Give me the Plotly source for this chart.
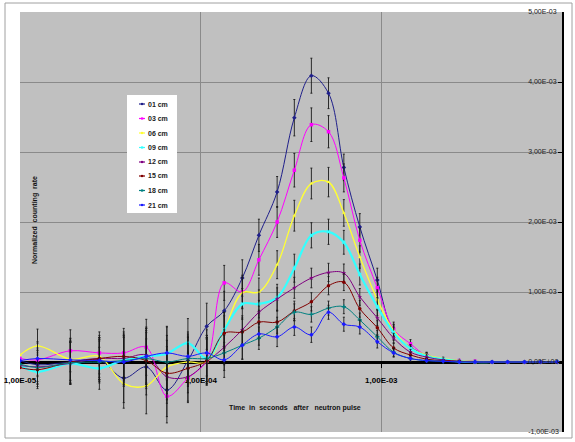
import numpy as np
import plotly.graph_objects as go

# ---- data (counting rate in units of 1e-3) ----
t = [1.0e-5, 1.25e-5, 1.9e-5, 2.75e-5, 3.75e-5, 5.0e-5, 6.5e-5, 8.5e-5, 1.08e-4,
     1.35e-4, 1.7e-4, 2.1e-4, 2.65e-4, 3.3e-4, 4.1e-4, 5.1e-4, 6.2e-4, 7.6e-4,
     9.5e-4, 1.17e-3, 1.45e-3, 1.78e-3, 2.2e-3, 2.7e-3, 3.3e-3, 4.1e-3, 5.0e-3,
     6.2e-3, 7.6e-3, 9.4e-3]

names = ["01 cm", "03 cm", "06 cm", "09 cm", "12 cm", "15 cm", "18 cm", "21 cm"]

r01 = [0.02, -0.04, 0.00, 0.03, -0.23, -0.07, -0.40, 0.02, 0.51, 0.73, 1.20, 1.81, 2.43, 3.49, 4.09, 3.84, 2.78, 1.93, 1.17, 0.42, 0.21, 0.10, 0.04, 0.02, 0.01, 0, 0, 0, 0, 0]
r03 = [0.05, 0.03, 0.16, 0.13, 0.13, 0.21, -0.49, -0.23, 0.02, 1.13, 1.00, 1.46, 2.00, 2.74, 3.39, 3.29, 2.63, 1.74, 1.06, 0.47, 0.26, 0.09, 0.04, 0.02, 0.01, 0, 0, 0, 0, 0]
r06 = [0.10, 0.23, 0.04, 0.08, -0.31, -0.34, -0.07, 0.00, 0.00, 0.46, 0.99, 1.00, 1.39, 2.09, 2.55, 2.57, 2.13, 1.50, 0.89, 0.45, 0.20, 0.10, 0.05, 0.02, 0.01, 0, 0, 0, 0, 0]
r09 = [-0.05, -0.14, -0.02, -0.09, 0.03, 0.08, 0.12, 0.27, 0.05, 0.46, 0.83, 0.83, 0.92, 1.34, 1.81, 1.86, 1.71, 1.25, 0.79, 0.42, 0.19, 0.08, 0.04, 0.01, 0, 0, 0, 0, 0, 0]
r12 = [-0.05, -0.07, -0.02, 0.05, 0.05, 0.10, -0.21, -0.21, 0.00, 0.21, 0.46, 0.71, 0.90, 1.06, 1.20, 1.28, 1.27, 0.93, 0.63, 0.34, 0.14, 0.07, 0.03, 0.01, 0, 0, 0, 0, 0, 0]
r15 = [-0.08, -0.11, 0.00, 0.05, 0.08, 0.02, -0.16, -0.09, 0.02, 0.41, 0.43, 0.57, 0.57, 0.73, 0.86, 1.09, 1.14, 0.76, 0.49, 0.20, 0.10, 0.04, 0.02, 0.01, 0, 0, 0, 0, 0, 0]
r18 = [-0.03, -0.08, -0.01, 0.00, 0.02, 0.05, 0.00, 0.05, 0.05, 0.13, 0.24, 0.34, 0.50, 0.71, 0.68, 0.77, 0.79, 0.60, 0.36, 0.14, 0.05, 0.02, 0.01, 0, 0, 0, 0, 0, 0, 0]
r21 = [0.02, 0.05, 0.03, 0.02, 0.00, 0.08, 0.13, 0.08, 0.13, 0.03, 0.24, 0.40, 0.36, 0.50, 0.39, 0.71, 0.54, 0.50, 0.29, 0.13, 0.05, 0.02, 0.01, 0, 0, 0, 0, 0, 0, 0]

# error bars (units of 1e-3)
e01 = [0, 0.24, 0.30, 0.30, 0.35, 0.40, 0.38, 0.35, 0.33, 0.28, 0.26, 0.23, 0.22, 0.26, 0.25, 0.22, 0.19, 0.19, 0.17, 0.11, 0.07, 0.04, 0.02, 0.01, 0, 0, 0, 0, 0, 0]
e03 = [0, 0.24, 0.30, 0.30, 0.35, 0.40, 0.38, 0.35, 0.33, 0.25, 0.24, 0.22, 0.22, 0.24, 0.24, 0.23, 0.20, 0.17, 0.15, 0.10, 0.06, 0.04, 0.02, 0.01, 0, 0, 0, 0, 0, 0]
e06 = [0, 0.24, 0.30, 0.30, 0.35, 0.40, 0.38, 0.35, 0.33, 0.25, 0.22, 0.20, 0.20, 0.22, 0.22, 0.21, 0.19, 0.16, 0.14, 0.09, 0.05, 0.03, 0.02, 0.01, 0, 0, 0, 0, 0, 0]
e09 = [0, 0.24, 0.30, 0.30, 0.35, 0.40, 0.38, 0.35, 0.33, 0.25, 0.22, 0.20, 0.19, 0.20, 0.18, 0.18, 0.17, 0.15, 0.13, 0.08, 0.05, 0.03, 0.02, 0.01, 0, 0, 0, 0, 0, 0]
e12 = [0, 0.24, 0.30, 0.30, 0.35, 0.40, 0.38, 0.35, 0.33, 0.25, 0.20, 0.17, 0.16, 0.15, 0.14, 0.13, 0.13, 0.12, 0.11, 0.07, 0.04, 0.02, 0.01, 0.01, 0, 0, 0, 0, 0, 0]
e15 = [0, 0.24, 0.30, 0.30, 0.35, 0.40, 0.38, 0.35, 0.33, 0.25, 0.20, 0.17, 0.16, 0.14, 0.13, 0.13, 0.12, 0.12, 0.10, 0.07, 0.04, 0.02, 0.01, 0.01, 0, 0, 0, 0, 0, 0]
e18 = [0, 0.24, 0.30, 0.30, 0.35, 0.40, 0.38, 0.35, 0.33, 0.25, 0.20, 0.16, 0.14, 0.12, 0.11, 0.10, 0.10, 0.10, 0.09, 0.06, 0.04, 0.02, 0.01, 0.01, 0, 0, 0, 0, 0, 0]
e21 = [0, 0.24, 0.30, 0.30, 0.35, 0.40, 0.38, 0.35, 0.33, 0.25, 0.20, 0.16, 0.14, 0.12, 0.11, 0.10, 0.10, 0.10, 0.09, 0.06, 0.04, 0.02, 0.01, 0.01, 0, 0, 0, 0, 0, 0]

x_tickvals = [1e-5, 1e-4, 1e-3, 1e-2]
x_ticktext = ["1,00E-05", "1,00E-04", "1,00E-03", "1,00E-02"]
y_tickvals = [-1e-3, 0, 1e-3, 2e-3, 3e-3, 4e-3, 5e-3]
y_ticktext = ["-1,00E-03", "0,00E+00", "1,00E-03", "2,00E-03", "3,00E-03", "4,00E-03", "5,00E-03"]

series = [r01, r03, r06, r09, r12, r15, r18, r21]
errors = [e01, e03, e06, e09, e12, e15, e18, e21]

# ---- styles ----
colors = ["#1f1f8a", "#ff00ff", "#ffff33", "#33ffff", "#800080", "#800000", "#008080", "#1a1aff"]
widths = [1, 1, 1.3, 2.2, 1, 1, 1, 1]
symbols = ["diamond", "square", "triangle-up", "x", "star", "circle", "cross", "diamond"]
FONT = "Liberation Sans, Arial, sans-serif"

W, H = 575, 442
L, R, T, B = 20, 562, 12, 432  # plot area in pixels


def px(xp):
    return (xp - L) / (R - L)


def py(yp):
    return (B - yp) / (B - T)


fig = go.Figure()
for name, vals, err, c, w, s in zip(names, series, errors, colors, widths, symbols):
    fig.add_trace(go.Scatter(
        x=t, y=np.array(vals) * 1e-3, name=name, mode="lines+markers",
        line=dict(color=c, width=w, shape="spline", smoothing=1.0),
        marker=dict(color=c, size=3.5, symbol=s),
        error_y=dict(type="data", array=np.array(err) * 1e-3, visible=True,
                     color="#1a1a1a", thickness=0.9, width=1),
        showlegend=False,
    ))

shapes = [
    # outer chart frame
    dict(type="rect", xref="paper", yref="paper", x0=px(5), x1=px(572), y0=py(438), y1=py(3),
         line=dict(color="#a0a0a0", width=1), fillcolor="rgba(0,0,0,0)", layer="below"),
    # legend box
    dict(type="rect", xref="paper", yref="paper", x0=px(127), x1=px(177), y0=py(213), y1=py(95),
         line=dict(color="#ffffff", width=0), fillcolor="#ffffff", layer="above"),
]
annotations = []
leg_y = [104, 118.5, 133, 147.5, 162, 176, 190.5, 205]
for name, c, yy in zip(names, colors, leg_y):
    shapes.append(dict(type="line", xref="paper", yref="paper", x0=px(139), x1=px(145),
                       y0=py(yy), y1=py(yy), line=dict(color=c, width=1.2), layer="above"))
    shapes.append(dict(type="rect", xref="paper", yref="paper", x0=px(141), x1=px(143.2),
                       y0=py(yy + 1.1), y1=py(yy - 1.1), line=dict(color=c, width=0),
                       fillcolor=c, layer="above"))
    annotations.append(dict(xref="paper", yref="paper", x=px(145.5), y=py(yy), text=name,
                            showarrow=False, xanchor="left", yanchor="middle",
                            font=dict(family=FONT, size=7, color="#222222", weight="bold")))

annotations.append(dict(xref="paper", yref="paper", x=px(295), y=py(408),
                        text="Time  in  seconds   after   neutron pulse", showarrow=False,
                        xanchor="center", yanchor="middle",
                        font=dict(family=FONT, size=7, color="#111111", weight="bold")))
annotations.append(dict(xref="paper", yref="paper", x=px(35), y=py(220),
                        text="Normalized  counting  rate", showarrow=False, textangle=-90,
                        xanchor="center", yanchor="middle",
                        font=dict(family=FONT, size=7, color="#111111", weight="bold")))

fig.update_layout(
    width=W, height=H,
    margin=dict(l=L, r=W - R, t=T, b=H - B, pad=0),
    paper_bgcolor="#ffffff",
    plot_bgcolor="#c0c0c0",
    font=dict(family=FONT, size=8, color="#000000"),
    shapes=shapes,
    annotations=annotations,
    xaxis=dict(
        type="log", range=[-5, -2], anchor="free", position=(B - 362) / (B - T),
        showline=True, linecolor="#000000", linewidth=3, layer="below traces",
        ticks="outside", ticklen=4, tickcolor="#000000", tickwidth=1,
        tickvals=x_tickvals, ticktext=x_ticktext, ticklabelstandoff=5,
        tickfont=dict(family=FONT, size=8, color="#000000", weight="bold"),
        showgrid=True, gridcolor="#8a8a8a", gridwidth=1, zeroline=False,
        automargin=False, fixedrange=True,
    ),
    yaxis=dict(
        range=[-1e-3, 5e-3], side="right", showline=True, linecolor="#000000", linewidth=1.5,
        ticks="inside", ticklen=4, tickcolor="#000000", tickwidth=1,
        ticklabelposition="outside", ticklabelstandoff=-37,
        tickvals=y_tickvals, ticktext=y_ticktext,
        tickfont=dict(family=FONT, size=7, color="#222222"),
        showgrid=True, gridcolor="#8a8a8a", gridwidth=1, zeroline=False,
        automargin=False, fixedrange=True,
    ),
)

fig.write_html("out.html", config={"displayModeBar": False},
               post_script="document.body.style.margin='0px';")
